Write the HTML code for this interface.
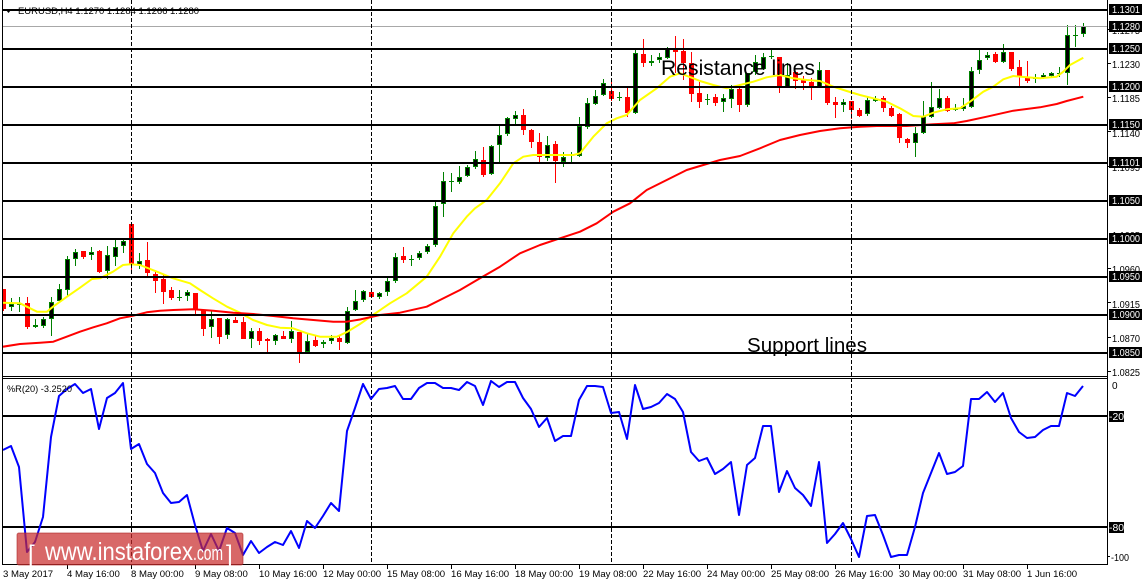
<!DOCTYPE html>
<html><head><meta charset="utf-8"><style>
html,body{margin:0;padding:0;background:#fff;}
svg{display:block;}
text{font-family:"Liberation Sans",Arial,sans-serif;}
</style></head><body>
<svg xmlns="http://www.w3.org/2000/svg" width="1147" height="585" viewBox="0 0 1147 585">
<defs>
<clipPath id="cm"><rect x="3" y="0" width="1104" height="376"/></clipPath>
<clipPath id="cl"><rect x="3" y="379" width="1104" height="185"/></clipPath>
</defs>
<rect width="1147" height="585" fill="#fff"/>

<g clip-path="url(#cm)" shape-rendering="crispEdges">
<path fill="none" stroke="#ff0000" stroke-width="1" d="M3.5 289V311M27.5 297V329M83.5 251V259M99.5 250V273M131.5 222V273M147.5 242V278M155.5 271V293M163.5 275V304M171.5 287V300M195.5 293V314M203.5 310V336M219.5 318V344M235.5 317V323M243.5 317V339M259.5 328V345M267.5 338V352M283.5 331V339M299.5 332V363M315.5 335V347M339.5 336V350M371.5 289V298M403.5 247V263M483.5 147V177M523.5 109V135M531.5 129V148M539.5 133V163M555.5 141V183M611.5 80V101M627.5 87V117M643.5 39V67M675.5 36V73M683.5 39V80M691.5 52V102M699.5 82V108M715.5 94V106M739.5 85V112M779.5 57V93M795.5 72V89M803.5 76V90M811.5 78V100M827.5 70V105M835.5 97V118M851.5 101V119M859.5 108V117M883.5 96V112M891.5 106V117M899.5 113V143M907.5 138V148M947.5 96V112M995.5 52V63M1011.5 52V71M1019.5 60V87M1027.5 61V83"/>
<path fill="#ff0000" d="M1 289h5v20h-5zM25 303h5v24h-5zM81 251h5v6h-5zM97 251h5v21h-5zM129 224h5v41h-5zM145 260h5v13h-5zM153 274h5v7h-5zM161 279h5v13h-5zM169 290h5v8h-5zM193 293h5v17h-5zM201 310h5v19h-5zM217 318h5v19h-5zM233 320h5v3h-5zM241 322h5v17h-5zM257 331h5v10h-5zM265 339h5v2h-5zM281 336h5v3h-5zM297 332h5v21h-5zM313 340h5v6h-5zM337 338h5v4h-5zM369 292h5v5h-5zM401 256h5v4h-5zM481 160h5v15h-5zM521 115h5v15h-5zM529 130h5v12h-5zM537 142h5v15h-5zM553 144h5v17h-5zM609 91h5v8h-5zM625 97h5v16h-5zM641 54h5v9h-5zM673 50h5v2h-5zM681 51h5v12h-5zM689 63h5v31h-5zM697 93h5v9h-5zM713 97h5v6h-5zM737 89h5v16h-5zM777 57h5v29h-5zM793 72h5v9h-5zM801 79h5v4h-5zM809 82h5v6h-5zM825 70h5v33h-5zM833 102h5v3h-5zM849 101h5v9h-5zM857 110h5v6h-5zM881 98h5v10h-5zM889 108h5v8h-5zM897 114h5v24h-5zM905 139h5v4h-5zM945 98h5v13h-5zM993 54h5v8h-5zM1009 52h5v17h-5zM1017 67h5v10h-5zM1025 77h5v4h-5z"/>
<path fill="none" stroke="#008000" stroke-width="1" d="M11.5 298V311M19.5 297V312M35.5 319V328M43.5 317V328M51.5 297V336M59.5 284V303M67.5 256V297M75.5 249V266M91.5 247V260M107.5 246V279M115.5 239V266M123.5 239V253M139.5 253V269M179.5 290V301M177 297.5h5M187.5 290V301M211.5 310V338M227.5 318V339M251.5 328V348M275.5 334V345M291.5 321V343M307.5 334V352M323.5 340V348M331.5 335V344M347.5 307V344M355.5 290V311M363.5 290V302M379.5 292V299M387.5 277V296M395.5 253V283M411.5 255V266M409 259.5h5M419.5 251V260M427.5 244V254M435.5 202V247M443.5 172V217M451.5 173V192M449 181.5h5M459.5 166V184M467.5 165V177M475.5 151V169M491.5 145V175M499.5 126V163M507.5 117V136M515.5 111V125M547.5 136V161M563.5 152V167M571.5 152V164M569 155.5h5M579.5 117V157M587.5 98V129M595.5 90V105M603.5 79V96M619.5 92V101M617 97.5h5M635.5 49V114M651.5 55V66M659.5 53V63M667.5 47V59M707.5 94V105M705 99.5h5M723.5 94V112M731.5 85V108M747.5 73V107M755.5 55V75M763.5 53V70M771.5 50V59M769 56.5h5M787.5 63V88M819.5 62V88M843.5 99V112M867.5 96V116M875.5 96V102M915.5 127V157M923.5 101V134M931.5 82V118M939.5 89V109M955.5 104V111M953 109.5h5M963.5 98V111M971.5 67V108M979.5 49V74M987.5 52V60M1003.5 44V63M1035.5 74V83M1033 78.5h5M1043.5 73V79M1051.5 72V77M1059.5 67V77M1057 73.5h5M1067.5 25V85M1075.5 25V47M1073 35.5h5M1083.5 23V37"/>
<path fill="#000" stroke="#008000" stroke-width="1" d="M9.5 304.5h4v2h-4zM17.5 303.5h4v1h-4zM33.5 325.5h4v1h-4zM41.5 319.5h4v6h-4zM49.5 302.5h4v16h-4zM57.5 289.5h4v11h-4zM65.5 259.5h4v30h-4zM73.5 252.5h4v6h-4zM89.5 252.5h4v2h-4zM105.5 255.5h4v15h-4zM113.5 247.5h4v9h-4zM121.5 241.5h4v4h-4zM137.5 261.5h4v3h-4zM185.5 292.5h4v3h-4zM209.5 319.5h4v7h-4zM225.5 319.5h4v15h-4zM249.5 331.5h4v7h-4zM273.5 335.5h4v5h-4zM289.5 331.5h4v7h-4zM305.5 341.5h4v10h-4zM321.5 342.5h4v1h-4zM329.5 338.5h4v2h-4zM345.5 311.5h4v31h-4zM353.5 301.5h4v8h-4zM361.5 291.5h4v8h-4zM377.5 293.5h4v3h-4zM385.5 281.5h4v10h-4zM393.5 257.5h4v23h-4zM417.5 253.5h4v4h-4zM425.5 246.5h4v5h-4zM433.5 206.5h4v38h-4zM441.5 181.5h4v22h-4zM457.5 177.5h4v4h-4zM465.5 167.5h4v8h-4zM473.5 159.5h4v7h-4zM489.5 146.5h4v27h-4zM497.5 135.5h4v9h-4zM505.5 118.5h4v15h-4zM513.5 115.5h4v3h-4zM545.5 145.5h4v12h-4zM561.5 157.5h4v4h-4zM577.5 126.5h4v29h-4zM585.5 103.5h4v23h-4zM593.5 96.5h4v7h-4zM601.5 83.5h4v11h-4zM633.5 53.5h4v59h-4zM649.5 61.5h4v1h-4zM657.5 57.5h4v2h-4zM665.5 49.5h4v8h-4zM721.5 98.5h4v3h-4zM729.5 89.5h4v9h-4zM745.5 73.5h4v31h-4zM753.5 62.5h4v9h-4zM761.5 57.5h4v11h-4zM785.5 75.5h4v11h-4zM817.5 70.5h4v16h-4zM841.5 102.5h4v2h-4zM865.5 100.5h4v13h-4zM873.5 99.5h4v1h-4zM913.5 133.5h4v9h-4zM921.5 116.5h4v16h-4zM929.5 107.5h4v9h-4zM937.5 98.5h4v9h-4zM961.5 106.5h4v2h-4zM969.5 71.5h4v35h-4zM977.5 60.5h4v9h-4zM985.5 55.5h4v2h-4zM1001.5 52.5h4v9h-4zM1041.5 75.5h4v2h-4zM1049.5 73.5h4v2h-4zM1065.5 35.5h4v37h-4zM1081.5 26.5h4v7h-4z"/>
</g>

<g clip-path="url(#cm)">
<polyline fill="none" stroke="#ffff00" stroke-width="2" stroke-linejoin="round" points="3,302.7 20,303.3 37,311.7 47,311.7 53,306.7 67,296.7 80,287.7 92,279 100,278.3 113,271.7 123,265 130,264.3 140,265 157,271.7 173,278.3 190,283.3 200,290 213,298.3 227,306.7 240,312.7 253,320 267,325 280,327.7 293,328.3 307,333.3 320,336.7 337,336.7 347,332 360,324 370,317 390,303.3 406.7,293.3 426.7,276.7 440,256.7 453.3,233.3 466.7,216.7 475,208.3 486.7,200 500,183.3 513.3,163.3 523.3,156.7 533.3,155 550,155 573.3,155 580,153.3 593.3,136.7 606.7,123.3 616.7,118.3 626.7,115 640,100 656.7,88.3 670,76.7 680,73.3 693.3,78.3 700,81 713.3,85 726.7,88.3 740,85 753.3,81.7 766.7,77.3 780,75 793.3,78.3 806.7,80 820,81 833.3,86.7 846.7,91 860,95 873.3,98.3 886.7,101.7 900,108.3 913.3,116 923.3,116.7 933.3,112.7 946.7,109.3 960,108.3 970,101.7 983.3,91.7 993.3,86.7 1003.3,79.3 1013.3,76 1026.7,77.3 1040,78.3 1056.7,76.7 1063.3,71.7 1070,65 1083.3,57.7"/>
<polyline fill="none" stroke="#ff0000" stroke-width="2" stroke-linejoin="round" points="3,346.7 20,344 40,342.7 53.3,341.7 66.7,336.7 80,331.7 93.3,327.3 106.7,323.3 120,318.3 133.3,315.7 146.7,312.3 160,310.7 173.3,310 193.3,309.3 213.3,310.7 233.3,312.7 253.3,314 273.3,316 293.3,318.3 313.3,320 333.3,321.7 346.7,321.7 360,319.5 380,315 400,312.7 426.7,306.7 440,300 460,290 480,278.3 500,266.7 520,253.3 540,245 560,238.3 580,231.7 596.7,223.3 613.3,211.7 630,203.3 646.7,190 666.7,180 686.7,170 700,166 720,160 740,156 760,148.3 780,140 800,135 820,131 840,128.3 860,126.7 876.7,126 906.7,126 933.3,124.3 953.3,123.3 966.7,121 986.7,116.7 1013.3,110.7 1040,107.3 1056.7,104 1066.7,101 1083.3,96.7"/>
</g>

<g fill="#000" shape-rendering="crispEdges">
<rect x="2" y="9" width="1105" height="2"/>
<rect x="2" y="48" width="1105" height="2"/>
<rect x="2" y="86" width="1105" height="2"/>
<rect x="2" y="124" width="1105" height="2"/>
<rect x="2" y="162" width="1105" height="2"/>
<rect x="2" y="200" width="1105" height="2"/>
<rect x="2" y="238" width="1105" height="2"/>
<rect x="2" y="276" width="1105" height="2"/>
<rect x="2" y="314" width="1105" height="2"/>
<rect x="2" y="352" width="1105" height="2"/>
<rect x="2" y="415" width="1105" height="2"/>
<rect x="2" y="526" width="1105" height="2"/>
</g>
<rect x="2" y="26" width="1105" height="1" fill="#a8a8a8" shape-rendering="crispEdges"/>

<g stroke="#000" stroke-width="1" stroke-dasharray="4,2" shape-rendering="crispEdges">
<line x1="131.5" y1="0" x2="131.5" y2="564"/>
<line x1="371.5" y1="0" x2="371.5" y2="564"/>
<line x1="611.5" y1="0" x2="611.5" y2="564"/>
<line x1="851.5" y1="0" x2="851.5" y2="564"/>
</g>

<g clip-path="url(#cl)">
<polyline fill="none" stroke="#0000ff" stroke-width="2" stroke-linejoin="round" points="3,450 11,446 19,467 27,552 35,542 43,517 51,437 59,396 67,389 75,384 83,393 91,389 99,429 107,398 115,393 123,383 131,449 139,444 147,464 155,473 163,493 171,503 179,502 187,495 195,525 203,551 211,534 219,551 227,528 235,533 243,555 251,541 259,553 267,547 275,542 283,545 291,531 299,548 307,521 315,528 323,516 331,503 339,511 347,431 355,408 363,384 371,399 379,389 387,388 395,386 403,399 411,399 419,388 427,383 435,383 443,388 451,388 459,390 467,382 475,386 483,405 491,381 499,387 507,382 515,382 523,398 531,409 539,427 547,418 555,441 563,436 571,436 579,400 587,386 595,386 603,387 611,413 619,412 627,439 635,385 643,409 651,407 659,403 667,394 675,399 683,412 691,452 699,461 707,458 715,474 723,469 731,462 739,515 747,465 755,458 763,426 771,426 779,492 787,471 795,488 803,495 811,506 819,462 827,543 835,534 843,523 851,539 859,557 867,516 875,515 883,535 891,557 899,555 907,555 915,527 923,493 931,473 939,453 947,474 955,472 963,466 971,399 979,399 987,392 995,402 1003,393 1011,418 1019,432 1027,438 1035,437 1043,430 1051,426 1059,426 1067,393 1075,396 1083,386"/>
</g>

<g fill="none" stroke="#000" stroke-width="1" shape-rendering="crispEdges">
<line x1="2.5" y1="0" x2="2.5" y2="565"/>
<line x1="1107.5" y1="0" x2="1107.5" y2="565"/>
<line x1="2" y1="376.5" x2="1108" y2="376.5"/>
<line x1="2" y1="378.5" x2="1108" y2="378.5"/>
<line x1="2" y1="564.5" x2="1108" y2="564.5"/>
</g>

<polygon points="6,10 11,10 8.5,13" fill="#000"/>
<text x="18" y="14" font-size="9" fill="#000" textLength="181" lengthAdjust="spacingAndGlyphs">EURUSD,H4  1.1270 1.1284 1.1266 1.1280</text>
<text x="7" y="392" font-size="9" fill="#000" textLength="65" lengthAdjust="spacingAndGlyphs">%R(20) -3.2520</text>

<text x="661" y="75" font-size="21" fill="#000" textLength="154" lengthAdjust="spacingAndGlyphs">Resistance lines</text>
<text x="747" y="352" font-size="20" fill="#000" textLength="120" lengthAdjust="spacingAndGlyphs">Support lines</text>

<g font-size="10" fill="#000">
<text x="1112" y="34" textLength="28" lengthAdjust="spacingAndGlyphs">1.1275</text>
<text x="1112" y="68" textLength="28" lengthAdjust="spacingAndGlyphs">1.1230</text>
<text x="1112" y="102" textLength="28" lengthAdjust="spacingAndGlyphs">1.1185</text>
<text x="1112" y="137" textLength="28" lengthAdjust="spacingAndGlyphs">1.1140</text>
<text x="1112" y="171" textLength="28" lengthAdjust="spacingAndGlyphs">1.1095</text>
<text x="1112" y="205" textLength="28" lengthAdjust="spacingAndGlyphs">1.1055</text>
<text x="1112" y="239" textLength="28" lengthAdjust="spacingAndGlyphs">1.1005</text>
<text x="1112" y="273" textLength="28" lengthAdjust="spacingAndGlyphs">1.0960</text>
<text x="1112" y="308" textLength="28" lengthAdjust="spacingAndGlyphs">1.0915</text>
<text x="1112" y="342" textLength="28" lengthAdjust="spacingAndGlyphs">1.0870</text>
<text x="1112" y="376" textLength="28" lengthAdjust="spacingAndGlyphs">1.0825</text>
<text x="1112" y="389">0</text>
<text x="1111" y="561" textLength="18" lengthAdjust="spacingAndGlyphs">-100</text>
</g>
<g stroke="#000" stroke-width="1" shape-rendering="crispEdges">
<line x1="1107" y1="29.5" x2="1111" y2="29.5"/>
<line x1="1107" y1="63.5" x2="1111" y2="63.5"/>
<line x1="1107" y1="97.5" x2="1111" y2="97.5"/>
<line x1="1107" y1="131.5" x2="1111" y2="131.5"/>
<line x1="1107" y1="166.5" x2="1111" y2="166.5"/>
<line x1="1107" y1="268.5" x2="1111" y2="268.5"/>
<line x1="1107" y1="302.5" x2="1111" y2="302.5"/>
<line x1="1107" y1="337.5" x2="1111" y2="337.5"/>
<line x1="1107" y1="371.5" x2="1111" y2="371.5"/>
<line x1="1107" y1="556.5" x2="1110" y2="556.5"/>
</g>

<g fill="#000" shape-rendering="crispEdges">
<rect x="1109" y="4" width="33" height="11"/>
<rect x="1109" y="21" width="33" height="11"/>
<rect x="1109" y="43" width="33" height="11"/>
<rect x="1109" y="81" width="33" height="11"/>
<rect x="1109" y="119" width="33" height="11"/>
<rect x="1109" y="157" width="33" height="11"/>
<rect x="1109" y="195" width="33" height="11"/>
<rect x="1109" y="233" width="33" height="11"/>
<rect x="1109" y="271" width="33" height="11"/>
<rect x="1109" y="309" width="33" height="11"/>
<rect x="1109" y="347" width="33" height="11"/>
<rect x="1109" y="411" width="15" height="11"/>
<rect x="1109" y="522" width="15" height="11"/>
</g>
<g font-size="10" fill="#fff">
<text x="1112" y="13" textLength="28" lengthAdjust="spacingAndGlyphs">1.1301</text>
<text x="1112" y="30" textLength="28" lengthAdjust="spacingAndGlyphs">1.1280</text>
<text x="1112" y="52" textLength="28" lengthAdjust="spacingAndGlyphs">1.1250</text>
<text x="1112" y="90" textLength="28" lengthAdjust="spacingAndGlyphs">1.1200</text>
<text x="1112" y="128" textLength="28" lengthAdjust="spacingAndGlyphs">1.1150</text>
<text x="1112" y="166" textLength="28" lengthAdjust="spacingAndGlyphs">1.1101</text>
<text x="1112" y="204" textLength="28" lengthAdjust="spacingAndGlyphs">1.1050</text>
<text x="1112" y="242" textLength="28" lengthAdjust="spacingAndGlyphs">1.1000</text>
<text x="1112" y="280" textLength="28" lengthAdjust="spacingAndGlyphs">1.0950</text>
<text x="1112" y="318" textLength="28" lengthAdjust="spacingAndGlyphs">1.0900</text>
<text x="1112" y="356" textLength="28" lengthAdjust="spacingAndGlyphs">1.0850</text>
<text x="1109" y="420" textLength="15" lengthAdjust="spacingAndGlyphs">-20</text>
<text x="1109" y="531" textLength="15" lengthAdjust="spacingAndGlyphs">-80</text>
</g>

<g stroke="#000" stroke-width="1" shape-rendering="crispEdges">
<line x1="67.5" y1="564" x2="67.5" y2="569"/>
<line x1="131.5" y1="564" x2="131.5" y2="569"/>
<line x1="195.5" y1="564" x2="195.5" y2="569"/>
<line x1="259.5" y1="564" x2="259.5" y2="569"/>
<line x1="323.5" y1="564" x2="323.5" y2="569"/>
<line x1="387.5" y1="564" x2="387.5" y2="569"/>
<line x1="451.5" y1="564" x2="451.5" y2="569"/>
<line x1="515.5" y1="564" x2="515.5" y2="569"/>
<line x1="579.5" y1="564" x2="579.5" y2="569"/>
<line x1="643.5" y1="564" x2="643.5" y2="569"/>
<line x1="707.5" y1="564" x2="707.5" y2="569"/>
<line x1="771.5" y1="564" x2="771.5" y2="569"/>
<line x1="835.5" y1="564" x2="835.5" y2="569"/>
<line x1="899.5" y1="564" x2="899.5" y2="569"/>
<line x1="963.5" y1="564" x2="963.5" y2="569"/>
<line x1="1027.5" y1="564" x2="1027.5" y2="569"/>
</g>
<g font-size="9.6" fill="#000">
<text x="3" y="577">3 May 2017</text>
<text x="67" y="577">4 May 16:00</text>
<text x="131" y="577">8 May 00:00</text>
<text x="195" y="577">9 May 08:00</text>
<text x="259" y="577">10 May 16:00</text>
<text x="323" y="577">12 May 00:00</text>
<text x="387" y="577">15 May 08:00</text>
<text x="451" y="577">16 May 16:00</text>
<text x="515" y="577">18 May 00:00</text>
<text x="579" y="577">19 May 08:00</text>
<text x="643" y="577">22 May 16:00</text>
<text x="707" y="577">24 May 00:00</text>
<text x="771" y="577">25 May 08:00</text>
<text x="835" y="577">26 May 16:00</text>
<text x="899" y="577">30 May 00:00</text>
<text x="963" y="577">31 May 08:00</text>
<text x="1027" y="577">1 Jun 16:00</text>
</g>

<rect x="17" y="533" width="226" height="32" rx="2" fill="rgba(200,40,40,0.7)" stroke="rgba(170,40,40,0.6)" stroke-width="1"/>
<g fill="#fff">
<text x="28" y="562" font-size="24" font-weight="300">[</text>
<text x="45" y="560" font-size="25" textLength="148" lengthAdjust="spacingAndGlyphs">www.instaforex</text>
<text x="193" y="560" font-size="20" textLength="30" lengthAdjust="spacingAndGlyphs">.com</text>
<text x="226" y="562" font-size="24">]</text>
</g>
</svg>
</body></html>
